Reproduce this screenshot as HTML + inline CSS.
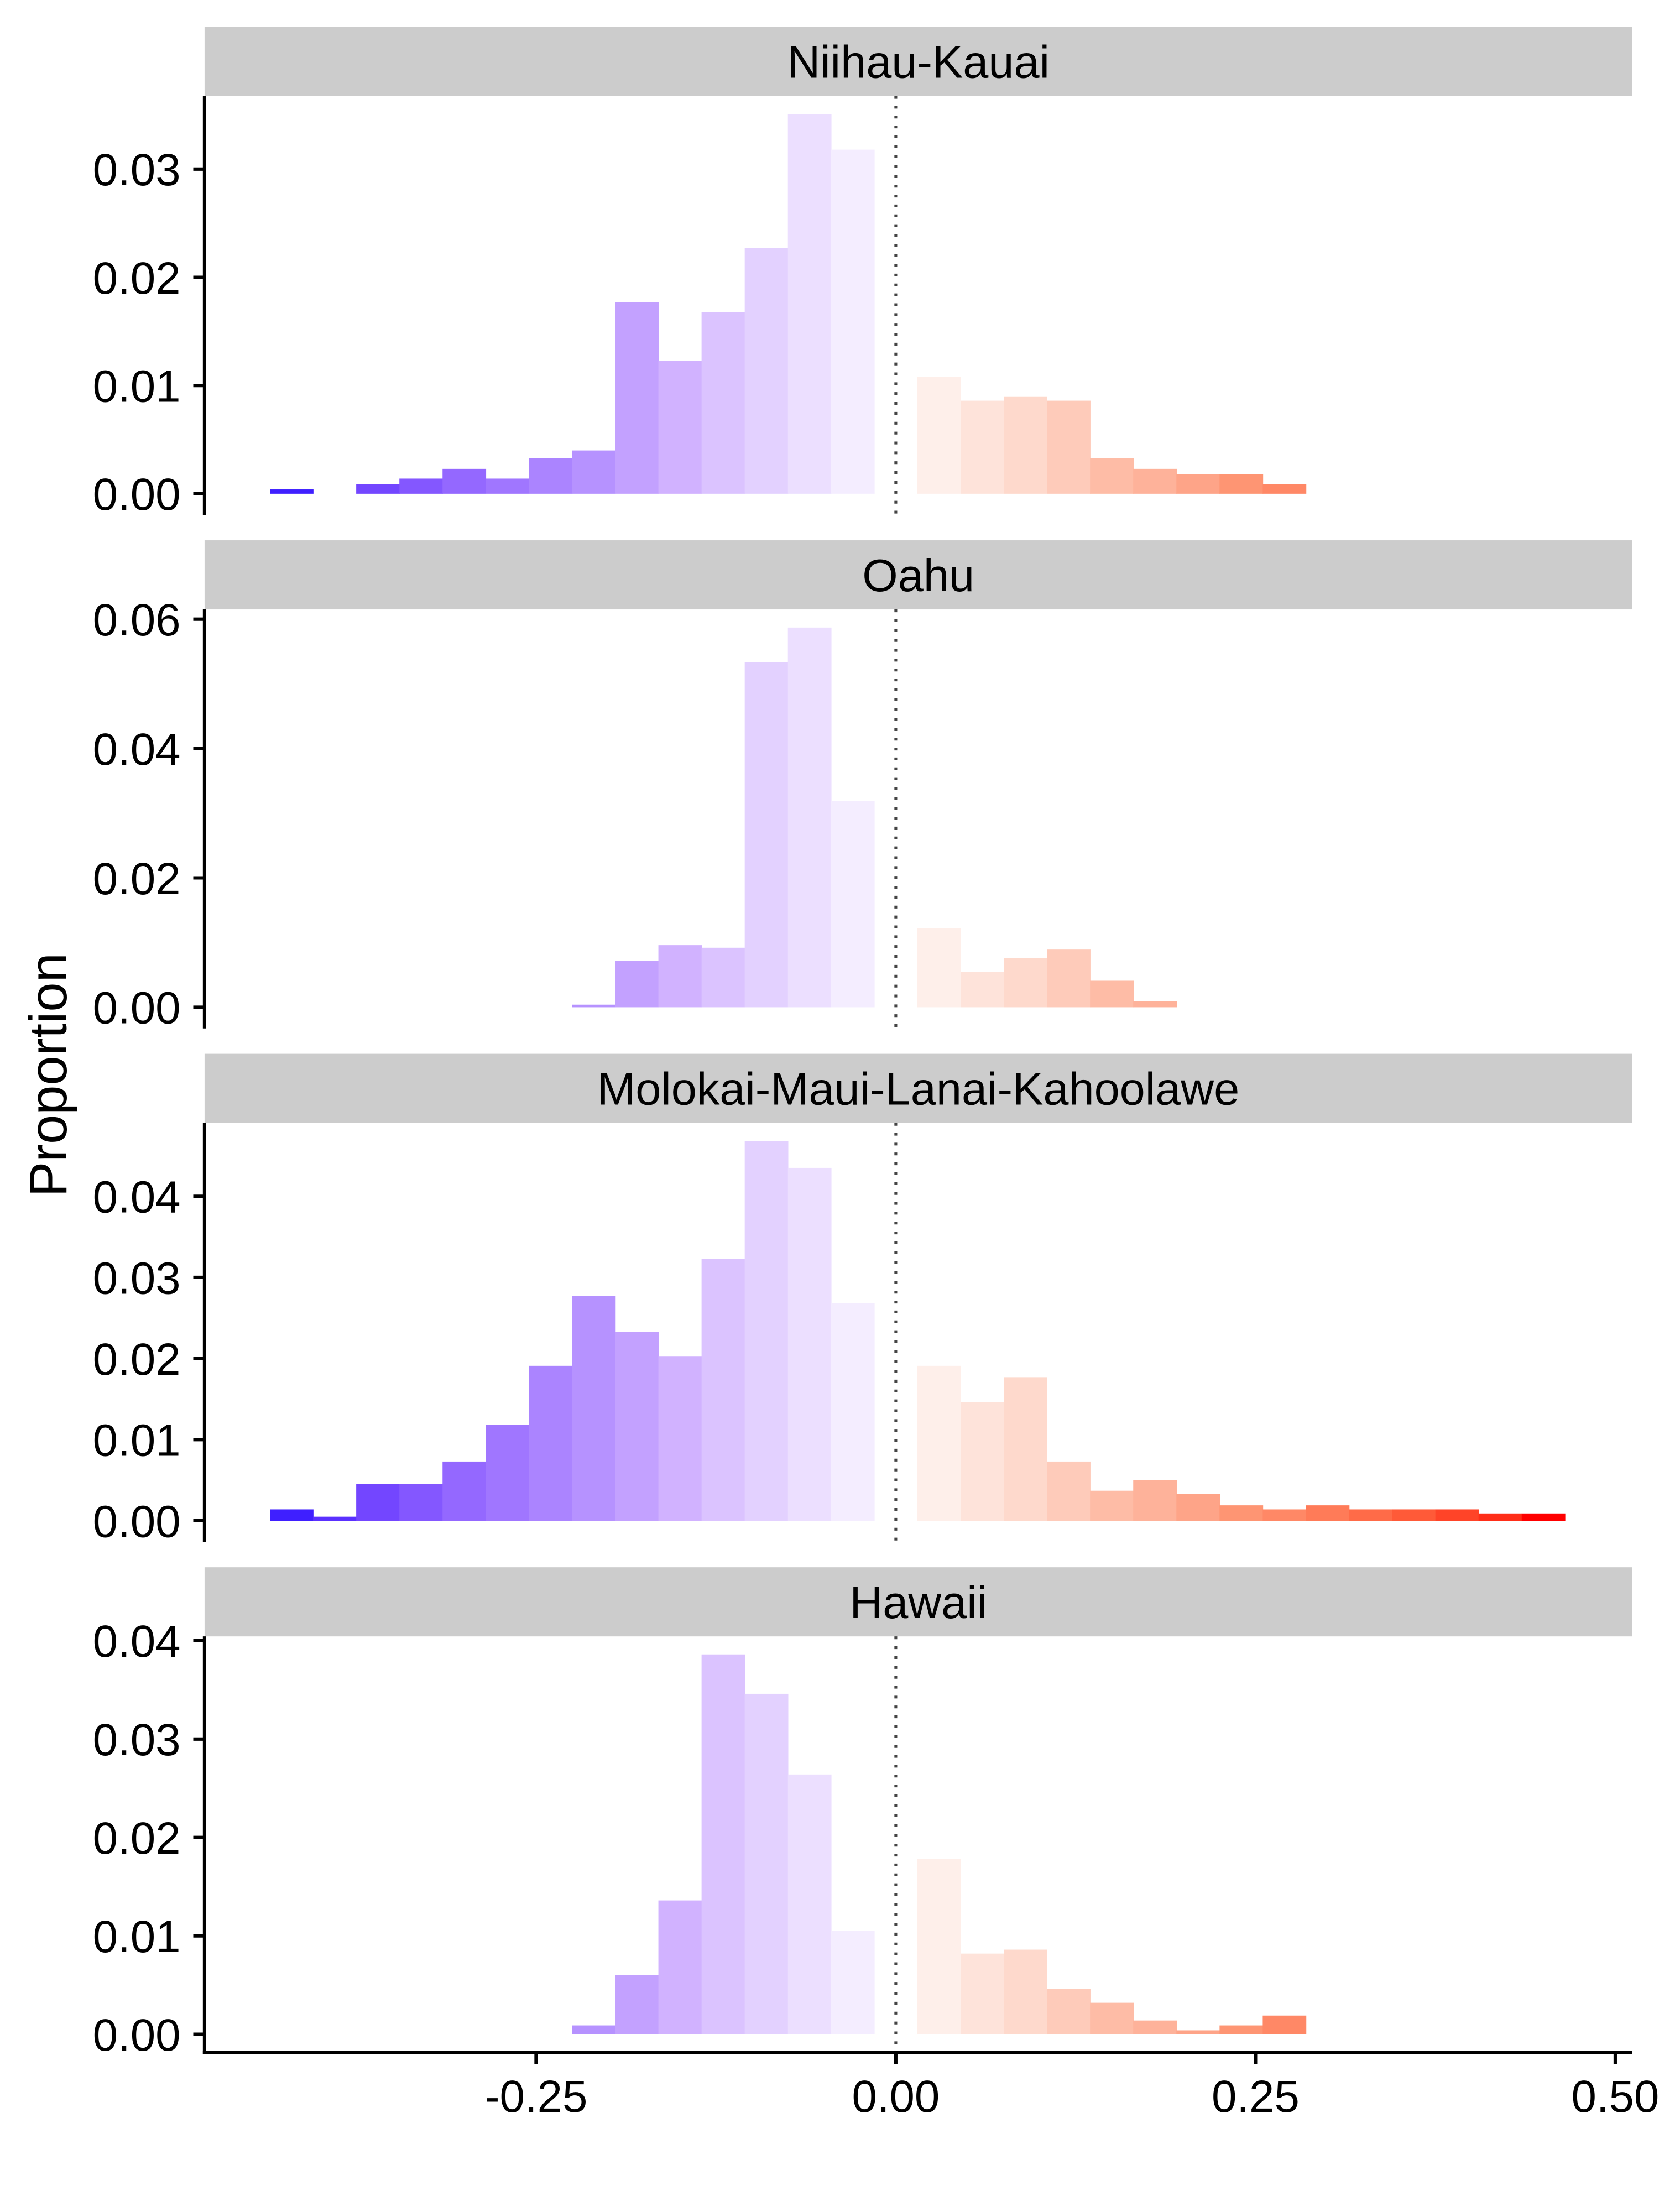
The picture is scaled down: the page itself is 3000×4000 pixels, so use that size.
<!DOCTYPE html>
<html><head><meta charset="utf-8"><style>
html,body{margin:0;padding:0;background:#fff;}
svg{display:block;}
text{font-family:"Liberation Sans",Arial,sans-serif;fill:#000;}
</style></head>
<body>
<svg id="chart" width="3000" height="4000" viewBox="0 0 1176 1568" preserveAspectRatio="none" xmlns="http://www.w3.org/2000/svg"></svg>
<script>
// ---- data ----
const binCenters = [-0.42,-0.39,-0.36,-0.33,-0.30,-0.27,-0.24,-0.21,-0.18,-0.15,-0.12,-0.09,-0.06,-0.03,
  0.03,0.06,0.09,0.12,0.15,0.18,0.21,0.24,0.27,0.30,0.33,0.36,0.39,0.42,0.45];
const panelNames = ["Niihau-Kauai","Oahu","Molokai-Maui-Lanai-Kahoolawe","Hawaii"];
const valuesNiihau = [0.0004,0,0.0009,0.0014,0.0023,0.0014,0.0033,0.0040,0.0177,0.0123,0.0168,0.0227,0.0351,0.0318,
  0.0108,0.0086,0.0090,0.0086,0.0033,0.0023,0.0018,0.0018,0.0009,0,0,0,0,0,0];
const valuesOahu = [0,0,0,0,0,0,0,0.0004,0.0072,0.0096,0.0092,0.0533,0.0587,0.0319,
  0.0122,0.0055,0.0076,0.0090,0.0041,0.0009,0,0,0,0,0,0,0,0,0];
const valuesMaui = [0.0014,0.0005,0.0045,0.0045,0.0073,0.0118,0.0191,0.0277,0.0233,0.0203,0.0323,0.0468,0.0435,0.0268,
  0.0191,0.0146,0.0177,0.0073,0.0037,0.0050,0.0033,0.0019,0.0014,0.0019,0.0014,0.0014,0.0014,0.0009,0.0009];
const valuesHawaii = [0,0,0,0,0,0,0,0.0009,0.0060,0.0136,0.0386,0.0346,0.0264,0.0105,
  0.0178,0.0082,0.0086,0.0046,0.0032,0.0014,0.0004,0.0009,0.0019,0,0,0,0,0,0];
const yTicksNiihau = [0,0.01,0.02,0.03];
const yTicksOahu = [0,0.02,0.04,0.06];
const yTicksMaui = [0,0.01,0.02,0.03,0.04];
const yTicksHawaii = [0,0.01,0.02,0.03,0.04];
const xTicks = [-0.25,0,0.25,0.5];
const xTickLabels = ["-0.25","0.00","0.25","0.50"];

// ---- layout ----
const NS="http://www.w3.org/2000/svg";
const svg=document.getElementById('chart');
const X0=635, XS=1020, LEFT=145, RIGHT=1157, BW=0.03;
const xScale=v=>X0+v*XS;
const panels=[
  {vals:valuesNiihau,ticks:yTicksNiihau,stripTop:19,top:68,bottom:365,zero:350,per:7670},
  {vals:valuesOahu,ticks:yTicksOahu,stripTop:383,top:432,bottom:729,zero:714,per:4585},
  {vals:valuesMaui,ticks:yTicksMaui,stripTop:747,top:796,bottom:1093,zero:1078,per:5750},
  {vals:valuesHawaii,ticks:yTicksHawaii,stripTop:1111,top:1160,bottom:1455,zero:1442,per:6975}
];
const negCols=["#3f1fff","#5a30ff","#7346ff","#8457ff","#9468ff","#a076ff","#ab84ff","#b692ff","#c3a1ff","#d1b2ff","#dbc3ff","#e3d1ff","#ecdfff","#f4edff"];
const posCols=["#feefea","#fee3da","#fed9cc","#fecbba","#febca6","#feb29a","#fea488","#fe9573","#ff8866","#ff7b58","#ff6b48","#ff5a38","#ff4428","#ff2e18","#ff0000"];
const colorFor=v=>{ if(v<0){let i=Math.round((v+0.42)/0.03);return negCols[Math.max(0,Math.min(13,i))];}
  let i=Math.round((v-0.03)/0.03);return posCols[Math.max(0,Math.min(14,i))]; };
function el(tag,attrs,parent){const e=document.createElementNS(NS,tag);for(const k in attrs)e.setAttribute(k,attrs[k]);(parent||svg).appendChild(e);return e;}

panels.forEach((p,pi)=>{
  const g=el('g',{});
  
  
  const yScale=v=>p.zero-v*p.per;
  const strip=el('rect',{x:LEFT,y:p.stripTop,width:RIGHT-LEFT,height:p.top-p.stripTop,fill:'#cccccc'},g);
  
  
  const st=el('text',{x:(LEFT+RIGHT)/2,y:p.stripTop+36,'text-anchor':'middle','font-size':32.5},g);
  st.textContent=panelNames[pi];
  
  
  p.vals.forEach((v,i)=>{
    if(v<=0)return;
    const c=binCenters[i];
    const x1=xScale(c-BW/2), x2=xScale(c+BW/2);
    const r=el('rect',{x:x1,y:yScale(v),width:x2-x1+0.3,height:p.zero-yScale(v),fill:colorFor(c)},g);
    
    
  });
  const dl=el('line',{x1:xScale(0),x2:xScale(0),y1:p.top,y2:p.bottom,stroke:'#444','stroke-width':2,'stroke-dasharray':'2,5'},g);
  
  
  const ax=el('line',{x1:LEFT,x2:LEFT,y1:p.top,y2:p.bottom+(pi===3?1.2:0),stroke:'#000','stroke-width':2.4},g);
  
  
  p.ticks.forEach(t=>{
    const y=yScale(t);
    const tk=el('line',{x1:LEFT-8,x2:LEFT,y1:y,y2:y,stroke:'#000','stroke-width':2.4},g);
    
    
    const tl=el('text',{x:128,y:y+11.5,'text-anchor':'end','font-size':32},g);
    tl.textContent=t.toFixed(2);
    
    
  });
});
// x axis
const xl=el('line',{x1:LEFT-1.2,x2:RIGHT,y1:1455,y2:1455,stroke:'#000','stroke-width':2.4});


xTicks.forEach((t,i)=>{
  const x=xScale(t);
  const tk=el('line',{x1:x,x2:x,y1:1455,y2:1463,stroke:'#000','stroke-width':2.4});
  
  
  const tl=el('text',{x:x,y:1497,'text-anchor':'middle','font-size':32});
  tl.textContent=xTickLabels[i];
  
  
});
const yt=el('text',{x:0,y:0,'text-anchor':'middle','font-size':37.5,transform:'translate(47,762) rotate(-90)'});
yt.textContent='Proportion';


</script>
</body></html>
